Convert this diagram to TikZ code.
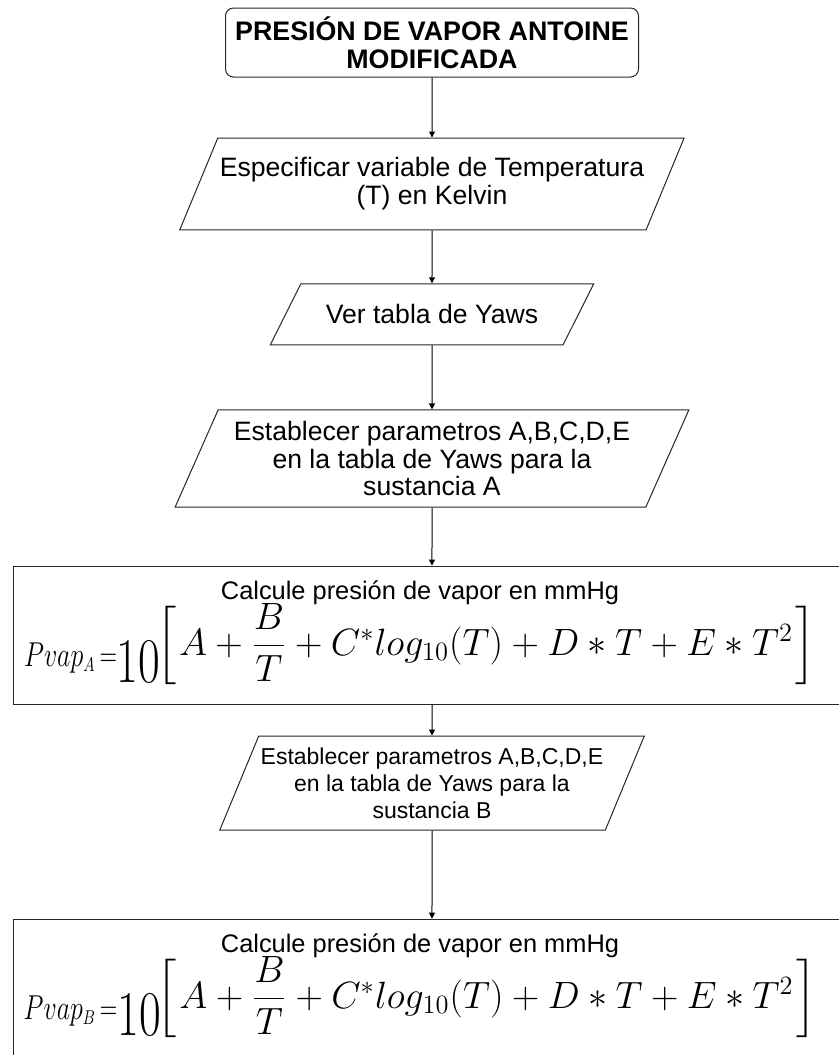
\documentclass[tikz,border=0pt]{standalone}
\usepackage{amsmath}
\usepackage[no-math]{fontspec}
\setmainfont{Liberation Sans}
\usetikzlibrary{positioning,arrows.meta,shapes.geometric}

% square brackets of a fixed height, centred on the maths axis
\newcommand{\lsq}{\mathopen{\vcenter{\hbox{\scalebox{1}[0.86]{$\left[\vrule height 15pt depth 15pt width 0pt\right.$}}}}}
\newcommand{\rsq}{\mathclose{\vcenter{\hbox{\scalebox{1}[0.86]{$\left.\vrule height 15pt depth 15pt width 0pt\right]$}}}}}
\newcommand{\pvapeq}[1]{%
  \scalebox{0.75}[1]{\fontsize{17.28}{18}\selectfont$Pvap_{\scriptscriptstyle #1}$}%
  \,\scalebox{0.7}[1]{\fontsize{17.28}{18}\selectfont$=$}%
  \raisebox{-8pt}{\fontsize{24.88}{26}\selectfont\scalebox{0.95}[1.28]{$10$}}%
  \hspace{-2pt}%
  \raisebox{5.5pt}{\scalebox{1.1}{\fontsize{17.28}{16.5}\selectfont\delimiterfactor=1000\delimitershortfall=0pt%
    $\lsq A+\dfrac{B}{T}+C^{*}log_{10}(T)+D*T+E*T^{2}\rsq$}}}

\begin{document}
\begin{tikzpicture}[
  font=\fontsize{13.3}{13.8}\selectfont,
  ttl/.style={draw=black!85, line width=0.5pt, rounded corners=4pt, align=center, inner sep=0pt,
    minimum width=206.5pt, minimum height=34.5pt, font=\fontsize{13.4}{13.8}\selectfont\bfseries},
  io/.style={trapezium, trapezium left angle=67.5, trapezium right angle=112.5, trapezium stretches=true,
    draw=black!85, line width=0.5pt, align=center, inner xsep=1pt, minimum width=#1},
  io/.default=200pt,
  calc/.style={draw=black!85, line width=0.5pt, align=center, inner sep=2pt,
    minimum width=419pt, minimum height=69pt, font=\fontsize{12.7}{13}\selectfont},
  arr/.style={-{Triangle[length=3pt,width=3pt]}, line width=0.5pt, black}]
\useasboundingbox (0,0) rectangle (419.5pt,-527.5pt);
\node[ttl] (title) at (216pt,-21.25pt) {PRESIÓN DE VAPOR ANTOINE\\MODIFICADA};
\node[io=249.5pt, inner ysep=9.85pt, below=30pt of title] (temp) {Especificar variable de Temperatura\\(T) en Kelvin};
\node[io=162pt, inner ysep=10.4pt, below=26.5pt of temp] (yaws) {Ver tabla de Yaws};
\node[io=257.5pt, inner ysep=5.6pt, below=32pt of yaws] (parA) {Establecer parametros A,B,C,D,E\\en la tabla de Yaws para la\\sustancia A};
\node[calc, below=29pt of parA] (calcA) {\rule{0pt}{14.5pt}Calcule presión de vapor en mmHg\hspace*{12pt}\\[20.5pt]%
  \smash{\pvapeq{A}}\hspace*{12pt}\rule[-17pt]{0pt}{0pt}};
\node[io=212pt, inner ysep=5.8pt, below=15.5pt of calcA, font=\fontsize{11.5}{13.5}\selectfont] (parB) {Establecer parametros A,B,C,D,E\\en la tabla de Yaws para la\\sustancia B};
\node[calc, below=44pt of parB] (calcB) {\rule{0pt}{14.5pt}Calcule presión de vapor en mmHg\hspace*{12pt}\\[20.5pt]%
  \smash{\pvapeq{B}}\hspace*{12pt}\rule[-17pt]{0pt}{0pt}};
\draw[arr] (title) -- (temp);
\draw[arr] (temp) -- (yaws);
\draw[arr] (yaws) -- (parA);
\draw[arr] (parA) -- (calcA);
\draw[arr] (calcA) -- (parB);
\draw[arr] (parB) -- (calcB);
\end{tikzpicture}
\end{document}
